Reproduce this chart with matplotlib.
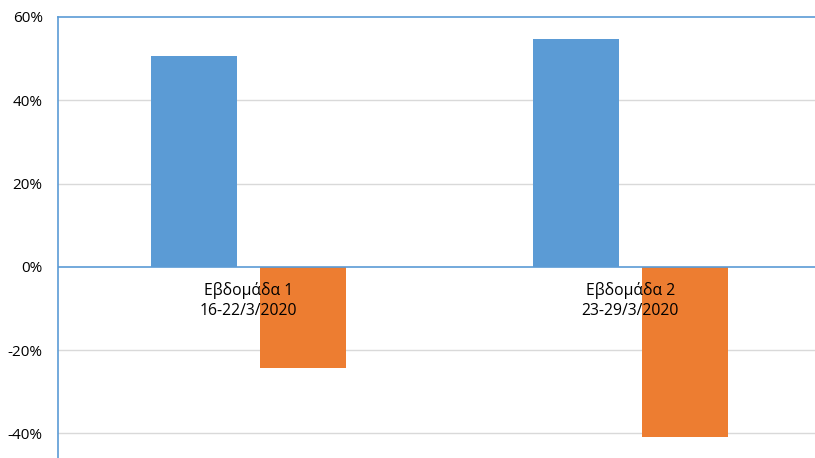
import matplotlib
matplotlib.use("Agg")
import matplotlib.pyplot as plt
from matplotlib.ticker import FuncFormatter

categories = ["Εβδομάδα 1\n16-22/3/2020", "Εβδομάδα 2\n23-29/3/2020"]
series_a = [0.506, 0.546]
series_b = [-0.243, -0.408]
yticks = [-0.4, -0.2, 0.0, 0.2, 0.4, 0.6]

plt.rcParams['font.family'] = ['Open Sans', 'DejaVu Sans']

fig = plt.figure(figsize=(8.15, 4.58), dpi=100)
ax = fig.add_axes([58/815, 0, 1 - 58/815, 1 - 17/458])

blue = "#5B9BD5"
orange = "#ED7D31"
axis_blue = "#5B9BD5"

x = list(range(len(categories)))
w = 0.225
off = 0.1425
ax.bar([i - off for i in x], series_a, width=w, color=blue, zorder=2)
ax.bar([i + off for i in x], series_b, width=w, color=orange, zorder=2)

ax.set_xlim(-0.5, 1.484)
ax.set_ylim(-0.459, 0.60)
ax.set_yticks(yticks)
ax.yaxis.set_major_formatter(FuncFormatter(lambda v, p: f"{v*100:.0f}%"))
ax.tick_params(axis='y', length=0, labelsize=11, pad=11, colors='#000000')
ax.set_xticks([])

for t in yticks:
    if t == 0.6:
        ax.axhline(t, color=axis_blue, lw=1.2, zorder=1, clip_on=False)
    elif t == 0.0:
        pass
    else:
        ax.axhline(t, color="#D9D9D9", lw=1.0, zorder=1)
ax.axhline(0, color=axis_blue, lw=1.2, zorder=3)

for s in ['top', 'right', 'bottom']:
    ax.spines[s].set_visible(False)
ax.spines['left'].set_color(axis_blue)
ax.spines['left'].set_linewidth(1.2)

for i, lab in enumerate(categories):
    ax.text(i, -0.036, lab, ha='center', va='top', fontsize=11.3,
            color='#000000', zorder=4, linespacing=1.32)

fig.savefig("out.png", dpi=100)
